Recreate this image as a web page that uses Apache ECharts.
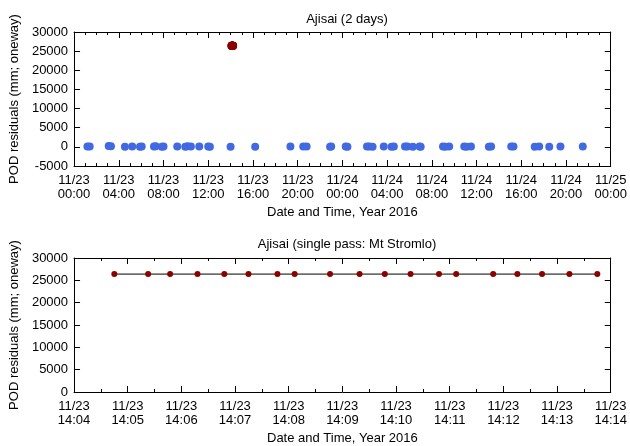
<!DOCTYPE html>
<html lang="en">
<head>
    <meta charset="UTF-8">
    <title>Ajisai POD residuals</title>
    <script src="https://cdnjs.cloudflare.com/ajax/libs/echarts/6.0.0/echarts.min.js"></script>
</head>
<style>
    body { margin: 0; background: #fff; }
    #box { width: 630px; height: 446px; }
</style>
<body>
<div id="box"></div>
<script>
    // hours since 11/23 00:00 for the 2-day panel
    var blueHours = [1.2, 1.4, 3.1, 3.3, 4.55, 5.2, 5.9, 6.05, 7.15, 7.3, 7.85, 8.0, 9.23, 9.95, 10.15, 10.45,
        11.2, 12.0, 12.15, 14.0, 16.2, 19.35, 20.5, 20.8, 22.9, 23.0, 24.3, 24.45, 26.2, 26.4, 26.7, 27.7,
        28.4, 28.6, 29.6, 29.8, 30.3, 30.9, 31.0, 33.0, 33.2, 33.55, 34.9, 35.1, 35.5, 37.1, 37.3, 39.1,
        39.3, 41.2, 41.6, 42.5, 43.5, 45.5];
    var blueResid = [120, 80, 250, 180, 60, 90, 40, 110, 70, 130, 50, 90, 100, 60, 140, 80,
        70, 90, 40, 60, 50, 80, 70, 110, 60, 90, 100, 50, 70, 120, 60, 80,
        40, 90, 70, 100, 60, 80, 50, 90, 60, 110, 70, 50, 90, 60, 80, 70,
        100, 60, 80, 50, 70, 90];
    // minutes after 11/23 14:04 for the Mt Stromlo pass
    var passMinutes = [0.75, 1.38, 1.79, 2.30, 2.80, 3.25, 3.79, 4.11, 4.77, 5.32, 5.79, 6.27, 6.80,
        7.12, 7.81, 8.26, 8.72, 9.23, 9.75];
    var passResid = [26400, 26400, 26400, 26400, 26400, 26400, 26400, 26400, 26400, 26400, 26400,
        26400, 26400, 26400, 26400, 26400, 26400, 26400, 26400];

    var font = 'Liberation Sans';
    var pad = function (n) { return (n < 10 ? '0' : '') + n; };

    var myChart = echarts.init(document.getElementById('box'));

    function frameX(grid, min, max, interval, minorSplit, pos, labels) {
        return {
            type: 'value', gridIndex: grid, position: pos, min: min, max: max, interval: interval,
            axisLine: { show: true, onZero: false, lineStyle: { color: '#000', width: 1 } },
            axisTick: { show: true, inside: true, length: 6, lineStyle: { color: '#000' } },
            minorTick: { show: true, splitNumber: minorSplit, length: 3, lineStyle: { color: '#000' } },
            splitLine: { show: false },
            axisLabel: labels ? {
                show: true, color: '#000', fontFamily: font, fontSize: 13, lineHeight: 14, margin: 7,
                formatter: labels
            } : { show: false },
            name: labels ? 'Date and Time, Year 2016' : '',
            nameLocation: 'middle', nameGap: 40,
            nameTextStyle: { color: '#000', fontFamily: font, fontSize: 13 }
        };
    }
    function frameY(grid, min, max, interval, pos, labels) {
        return {
            type: 'value', gridIndex: grid, position: pos, min: min, max: max, interval: interval,
            axisLine: { show: true, onZero: false, lineStyle: { color: '#000', width: 1 } },
            axisTick: { show: true, inside: true, length: 6, lineStyle: { color: '#000' } },
            splitLine: { show: false },
            axisLabel: {
                show: labels, color: '#000', fontFamily: font, fontSize: 13, margin: 6,
                formatter: function (v) { return String(v); }
            },
            name: labels ? 'POD residuals (mm; oneway)' : '',
            nameLocation: 'middle', nameGap: 50,
            nameTextStyle: { color: '#000', fontFamily: font, fontSize: 13 }
        };
    }

    var topLabel = function (v) {
        return '11/' + (23 + Math.floor(v / 24)) + '\n' + pad(v % 24) + ':00';
    };
    var bottomLabel = function (v) {
        return '11/23\n14:' + pad(4 + v);
    };

    var blueData = blueHours.map(function (h, i) { return [h, blueResid[i]]; });
    var redTop = passMinutes.map(function (m, i) { return [14 + (4 + m) / 60, passResid[i]]; });
    var redPass = passMinutes.map(function (m, i) { return [m, passResid[i]]; });

    var option = {
        animation: false,
        backgroundColor: '#fff',
        title: [
            { text: 'Ajisai (2 days)', left: 342, top: 8, textAlign: 'center',
              textStyle: { color: '#000', fontFamily: font, fontSize: 13, fontWeight: 'normal' } },
            { text: 'Ajisai (single pass: Mt Stromlo)', left: 342, top: 233, textAlign: 'center',
              textStyle: { color: '#000', fontFamily: font, fontSize: 13, fontWeight: 'normal' } }
        ],
        grid: [
            { left: 72, right: 17, top: 32, height: 134 },
            { left: 72, right: 17, top: 258, height: 135 }
        ],
        xAxis: [
            frameX(0, 0, 48, 4, 4, 'bottom', topLabel),
            frameX(0, 0, 48, 4, 4, 'top', null),
            frameX(1, 0, 10, 1, 2, 'bottom', bottomLabel),
            frameX(1, 0, 10, 1, 2, 'top', null)
        ],
        yAxis: [
            frameY(0, -5000, 30000, 5000, 'left', true),
            frameY(0, -5000, 30000, 5000, 'right', false),
            frameY(1, 0, 30000, 5000, 'left', true),
            frameY(1, 0, 30000, 5000, 'right', false)
        ],
        series: [
            {
                type: 'scatter', xAxisIndex: 0, yAxisIndex: 0, data: blueData,
                symbol: 'circle', symbolSize: 8, itemStyle: { color: '#4169e1', opacity: 1 }
            },
            {
                type: 'scatter', xAxisIndex: 0, yAxisIndex: 0, data: redTop,
                symbol: 'circle', symbolSize: 8, itemStyle: { color: '#8b0000', opacity: 1 }
            },
            {
                type: 'line', xAxisIndex: 2, yAxisIndex: 2, data: redPass,
                symbol: 'circle', symbolSize: 6, showSymbol: true,
                lineStyle: { color: '#000', width: 1 },
                itemStyle: { color: '#8b0000', borderWidth: 0 }
            }
        ]
    };

    option && myChart.setOption(option);
</script>
</body>
</html>
